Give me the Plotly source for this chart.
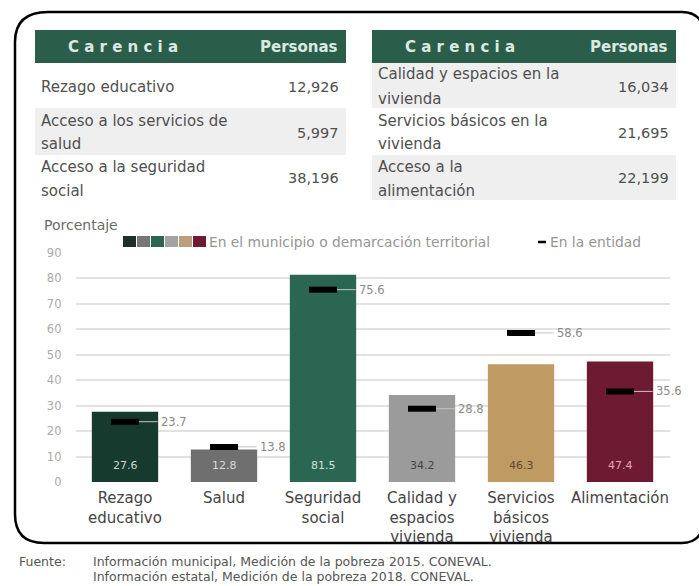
import plotly.graph_objects as go

W, H = 699, 586

# datos de las tablas
carencias_izq = ["Rezago educativo", "Acceso a los servicios de<br>salud", "Acceso a la seguridad<br>social"]
personas_izq = ["12,926", "5,997", "38,196"]
carencias_der = ["Calidad y espacios en la<br>vivienda", "Servicios básicos en la<br>vivienda", "Acceso a la<br>alimentación"]
personas_der = ["16,034", "21,695", "22,199"]

# datos de la gráfica
categorias = ["Rezago<br>educativo", "Salud", "Seguridad<br>social", "Calidad y<br>espacios<br>vivienda",
              "Servicios<br>básicos<br>vivienda", "Alimentación"]
municipio = [27.6, 12.8, 81.5, 34.2, 46.3, 47.4]
entidad = [23.7, 13.8, 75.6, 28.8, 58.6, 35.6]
colores = ["#173a2e", "#6f6f6f", "#2b6652", "#9b9b9b", "#bf9b63", "#6e1a32"]
colores_texto = ["#c9d6d0", "#dadada", "#cfe0d8", "#444444", "#5e4a2a", "#e6a3bb"]
colores_leyenda = ["#1e2f28", "#777777", "#2b6652", "#a3a3a3", "#b9a07a", "#6e1a32"]

FUENTE = "DejaVu Sans"

posiciones = list(range(len(categorias)))


def px(x):
    return x / W


def py(y):
    return 1 - y / H


fig = go.Figure()

fig.add_trace(go.Bar(
    x=posiciones, y=municipio, marker_color=colores, width=0.67,
    marker_line_width=0, hoverinfo="skip", showlegend=False,
))

fig.add_trace(go.Scatter(
    x=posiciones, y=entidad, mode="markers",
    marker=dict(symbol="line-ew-open", size=20, color="black", line=dict(width=6, color="black")),
    error_x=dict(type="data", symmetric=False, array=[0.33] * 6, arrayminus=[0] * 6,
                 color="#c4c4c4", thickness=1, width=0),
    showlegend=False,
))

shapes = []
annotations = []


def texto(x, y, t, size=15, color="#505050", xanchor="left", family=FUENTE):
    annotations.append(dict(x=px(x), y=py(y), xref="paper", yref="paper", text=t, showarrow=False,
                            xanchor=xanchor, yanchor="middle",
                            font=dict(size=size, color=color, family=family)))


# valores dentro de las barras
for i, (v, c) in enumerate(zip(municipio, colores_texto)):
    annotations.append(dict(x=i, y=6.6, xref="x", yref="y", text=f"{v}", showarrow=False,
                            yanchor="middle", font=dict(size=11, color=c, family=FUENTE)))

# etiquetas de la entidad
for i, v in enumerate(entidad):
    annotations.append(dict(x=i + 0.34, y=v, xref="x", yref="y", text=f"{v}", showarrow=False,
                            xanchor="left", yanchor="middle",
                            font=dict(size=11.5, color="#8a8a8a", family=FUENTE)))

# marco redondeado
shapes.append(dict(
    type="path", xref="paper", yref="paper",
    path=(f"M {px(704)},{py(30)} Q {px(700)},{py(12)} {px(682)},{py(12)} L {px(48)},{py(12)} "
          f"Q {px(15)},{py(12)} {px(15)},{py(42)} L {px(15)},{py(514)} Q {px(15)},{py(543)} {px(44)},{py(543)} "
          f"L {px(682)},{py(543)} Q {px(700)},{py(543)} {px(704)},{py(524)}"),
    line=dict(color="black", width=2.5), fillcolor="rgba(0,0,0,0)",
))


def tabla(x0, x1, carencias, personas, gris):
    shapes.append(dict(type="rect", xref="paper", yref="paper", x0=px(x0), x1=px(x1),
                       y0=py(63), y1=py(30), fillcolor="#2a5e4b", line_width=0, layer="below"))
    texto(x0 + 31, 46.5, "<b>C a r e n c i a</b>", 15, "#dce9e3")
    texto(x1 - 6, 46.5, "<b>Personas</b>", 15, "#dce9e3", "right")
    limites = [63, 108, 155, 200]
    for k in range(3):
        y0, y1 = limites[k], limites[k + 1]
        if k in gris:
            shapes.append(dict(type="rect", xref="paper", yref="paper", x0=px(x0), x1=px(x1),
                               y0=py(y1), y1=py(y0), fillcolor="#efefef", line_width=0, layer="below"))
        centro = (y0 + y1) / 2 + 1
        lineas = carencias[k].split("<br>")
        for j, t in enumerate(lineas):
            texto(x0 + 4, centro + (j - (len(lineas) - 1) / 2) * 24, t)
        texto(x1 - 5, centro, personas[k], 14.5, xanchor="right")


tabla(35, 346, carencias_izq, personas_izq, [1])
tabla(372, 676, carencias_der, personas_der, [0, 2])

# leyenda
for k, c in enumerate(colores_leyenda):
    shapes.append(dict(type="rect", xref="paper", yref="paper", x0=px(123 + k * 14), x1=px(136 + k * 14),
                       y0=py(247), y1=py(236), fillcolor=c, line_width=0))
texto(207, 241.5, "En el municipio o demarcación territorial", 13.8, "#959595")
shapes.append(dict(type="line", xref="paper", yref="paper", x0=px(538), x1=px(546),
                   y0=py(242), y1=py(242), line=dict(color="black", width=2.5)))
texto(548, 241.5, "En la entidad", 13.8, "#959595")
texto(42, 225, "Porcentaje", 14, "#6a6a6a")

# fuente
texto(17, 561, "Fuente:", 12.5, "#555555")
texto(91, 561, "Información municipal, Medición de la pobreza 2015. CONEVAL.", 12.5, "#555555")
texto(91, 576, "Información estatal, Medición de la pobreza 2018. CONEVAL.", 12.5, "#555555")

fig.update_layout(
    width=W, height=H, autosize=False,
    margin=dict(l=0, r=0, t=0, b=0, pad=0),
    paper_bgcolor="white", plot_bgcolor="white",
    font=dict(family=FUENTE),
    shapes=shapes, annotations=annotations,
    xaxis=dict(domain=[px(75.5), px(669.5)], range=[-0.5, 5.5], showgrid=False, zeroline=False,
               tickvals=posiciones, ticktext=categorias, ticklabelstandoff=5,
               showline=False, ticks="", automargin=False, tickfont=dict(size=15, color="#444444")),
    yaxis=dict(domain=[py(482), py(253)], range=[0, 90], dtick=10, showgrid=True, automargin=False,
               gridcolor="#e2e2e2", gridwidth=1.5, zeroline=False, showline=False,
               tickfont=dict(size=11.5, color="#aaaaaa"), ticklabelstandoff=13),
    bargap=0.33,
)

fig.write_html("out.html", config={"displayModeBar": False},
               post_script="document.body.style.margin='0';")
